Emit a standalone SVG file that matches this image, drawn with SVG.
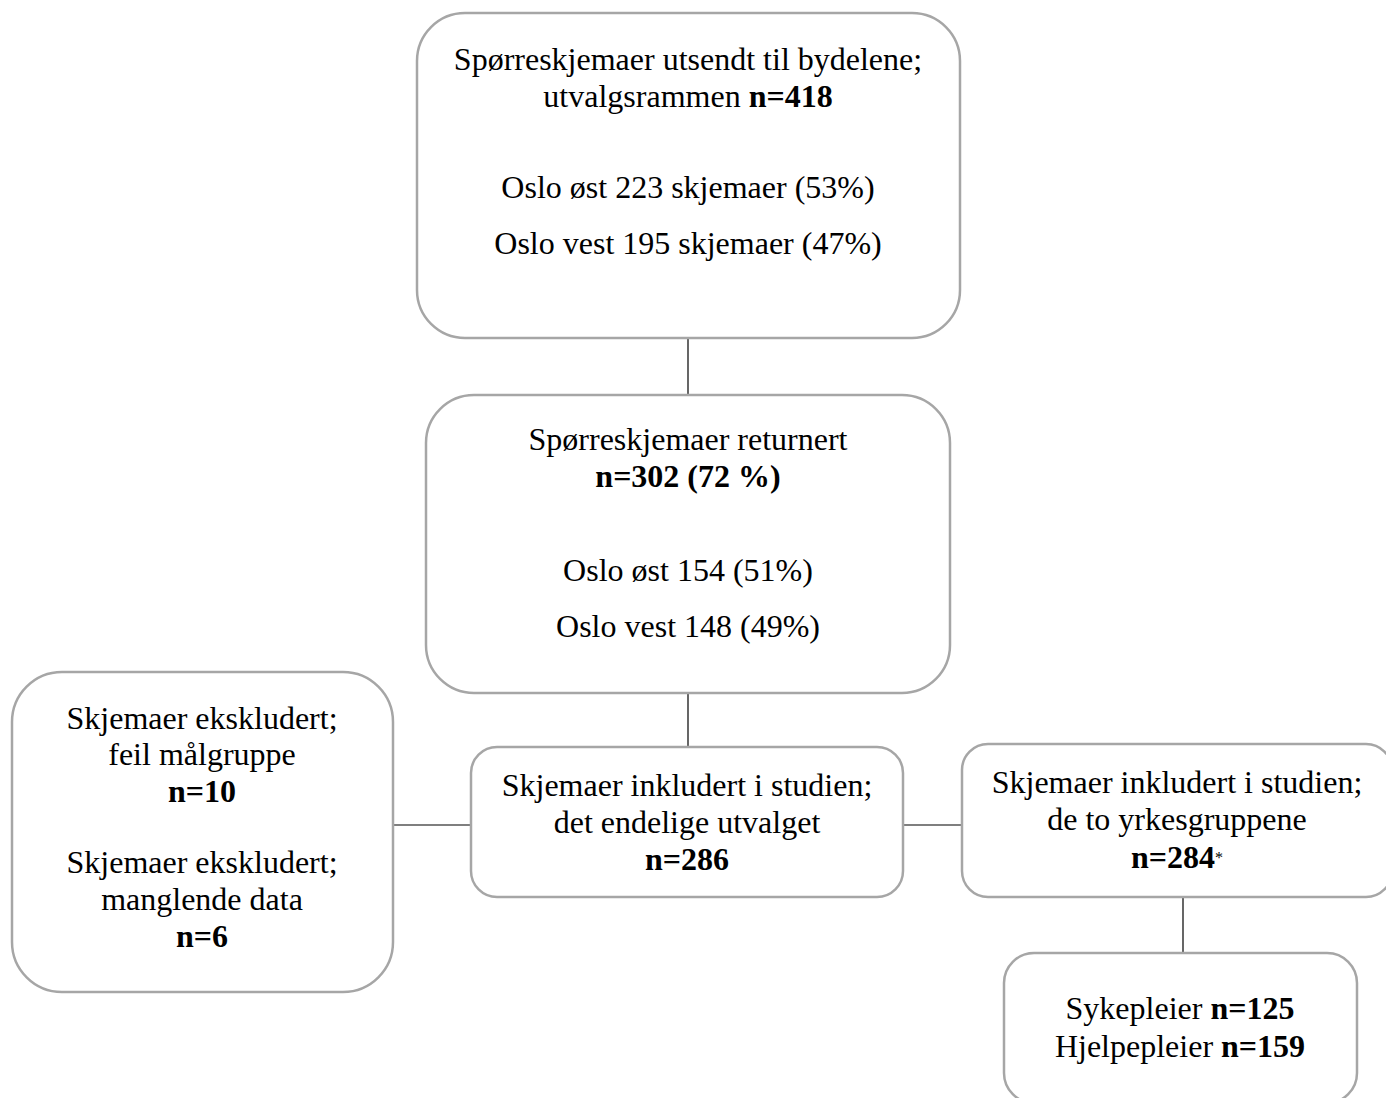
<svg xmlns="http://www.w3.org/2000/svg" width="1386" height="1098" viewBox="0 0 1386 1098">
<style>
.box{fill:#fff;stroke:#a6a6a6;stroke-width:2.5}
.t{font-family:"Liberation Serif","Times New Roman",serif;font-size:32px;fill:#000;text-anchor:middle}
.b{font-weight:bold}
.c{stroke:#000;stroke-width:1.2;fill:none}
</style>
<rect width="1386" height="1098" fill="#fff"/>
<g id="connectors">
<line class="c" x1="688" y1="338" x2="688" y2="395"/>
<line class="c" x1="688" y1="693" x2="688" y2="747"/>
<line class="c" x1="392" y1="825" x2="471" y2="825"/>
<line class="c" x1="903" y1="825" x2="962" y2="825"/>
<line class="c" x1="1183" y1="897" x2="1183" y2="952"/>
</g>
<g id="node-utsendt">
<rect class="box" x="417" y="13" width="543" height="325" rx="48"/>
<text class="t" x="688" y="70">Spørreskjemaer utsendt til bydelene;</text>
<text class="t" x="688" y="107">utvalgsrammen <tspan class="b">n=418</tspan></text>
<text class="t" x="688" y="198">Oslo øst 223 skjemaer (53%)</text>
<text class="t" x="688" y="254">Oslo vest 195 skjemaer (47%)</text>
</g>
<g id="node-returnert">
<rect class="box" x="426" y="395" width="524" height="298" rx="48"/>
<text class="t" x="688" y="450">Spørreskjemaer returnert</text>
<text class="t b" x="688" y="487">n=302 (72 %)</text>
<text class="t" x="688" y="581">Oslo øst 154 (51%)</text>
<text class="t" x="688" y="637">Oslo vest 148 (49%)</text>
</g>
<g id="node-ekskludert">
<rect class="box" x="12" y="672" width="381" height="320" rx="50"/>
<text class="t" x="202" y="729">Skjemaer ekskludert;</text>
<text class="t" x="202" y="765">feil målgruppe</text>
<text class="t b" x="202" y="802">n=10</text>
<text class="t" x="202" y="873">Skjemaer ekskludert;</text>
<text class="t" x="202" y="910">manglende data</text>
<text class="t b" x="202" y="947">n=6</text>
</g>
<g id="node-inkludert">
<rect class="box" x="471" y="747" width="432" height="150" rx="26"/>
<text class="t" x="687" y="796">Skjemaer inkludert i studien;</text>
<text class="t" x="687" y="833">det endelige utvalget</text>
<text class="t b" x="687" y="870">n=286</text>
</g>
<g id="node-yrkesgrupper">
<rect class="box" x="962" y="744" width="430" height="153" rx="26"/>
<text class="t" x="1177" y="793">Skjemaer inkludert i studien;</text>
<text class="t" x="1177" y="830">de to yrkesgruppene</text>
<text class="t b" x="1177" y="868">n=284<tspan font-size="16" font-weight="normal" dy="-5">*</tspan></text>
</g>
<g id="node-fordeling">
<rect class="box" x="1004" y="953" width="353" height="150" rx="30"/>
<text class="t" x="1180" y="1019">Sykepleier <tspan class="b">n=125</tspan></text>
<text class="t" x="1180" y="1057">Hjelpepleier <tspan class="b">n=159</tspan></text>
</g>
</svg>
